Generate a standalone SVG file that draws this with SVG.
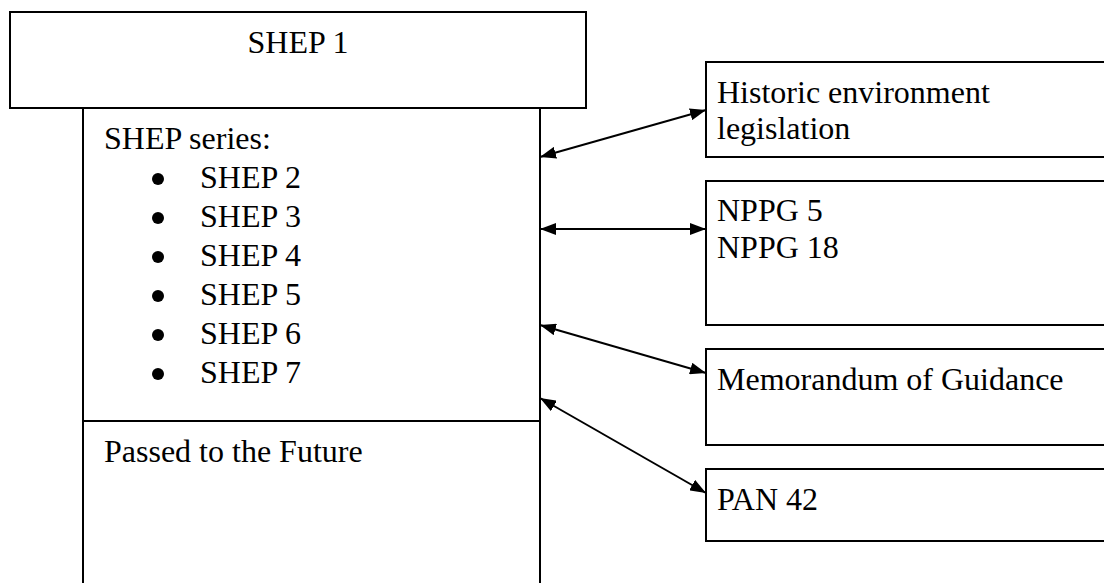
<svg xmlns="http://www.w3.org/2000/svg" width="1104" height="583" viewBox="0 0 1104 583">
<style>
.box{fill:#fff;stroke:#000;stroke-width:2}
.t{font-family:"Liberation Serif","Times New Roman",serif;font-size:32px;fill:#000}
.c{stroke:#000;stroke-width:2;fill:none;marker-start:url(#ah);marker-end:url(#ah)}
</style>
<defs>
<marker id="ah" viewBox="0 0 10 10" refX="10" refY="5" markerWidth="16" markerHeight="12" markerUnits="userSpaceOnUse" orient="auto-start-reverse" preserveAspectRatio="none">
<path d="M0,0 L10,5 L0,10 z" fill="#000"/>
</marker>
<circle id="bul" r="6" fill="#000"/>
</defs>
<rect width="1104" height="583" fill="#fff"/>
<g id="shep1">
<rect class="box" x="10" y="12" width="576" height="96"/>
<text class="t" x="298" y="53" text-anchor="middle">SHEP 1</text>
</g>
<g id="shep-series">
<rect class="box" x="83" y="108" width="457" height="313"/>
<text class="t" x="104" y="149">SHEP series:</text>
<use href="#bul" x="158" y="179"/><text class="t" x="200" y="188">SHEP 2</text>
<use href="#bul" x="158" y="218"/><text class="t" x="200" y="227">SHEP 3</text>
<use href="#bul" x="158" y="257"/><text class="t" x="200" y="266">SHEP 4</text>
<use href="#bul" x="158" y="296"/><text class="t" x="200" y="305">SHEP 5</text>
<use href="#bul" x="158" y="335"/><text class="t" x="200" y="344">SHEP 6</text>
<use href="#bul" x="158" y="374"/><text class="t" x="200" y="383">SHEP 7</text>
</g>
<g id="passed">
<rect class="box" x="83" y="421" width="457" height="170"/>
<text class="t" x="104" y="462">Passed to the Future</text>
</g>
<g id="historic">
<rect class="box" x="706" y="62" width="410" height="95"/>
<text class="t" x="717" y="103">Historic environment</text>
<text class="t" x="717" y="139">legislation</text>
</g>
<g id="nppg">
<rect class="box" x="706" y="181" width="410" height="144"/>
<text class="t" x="717" y="221">NPPG 5</text>
<text class="t" x="717" y="258">NPPG 18</text>
</g>
<g id="memo">
<rect class="box" x="706" y="349" width="410" height="96"/>
<text class="t" x="717" y="390">Memorandum of Guidance</text>
</g>
<g id="pan">
<rect class="box" x="706" y="469" width="410" height="72"/>
<text class="t" x="717" y="510">PAN 42</text>
</g>
<g id="connectors">
<line class="c" x1="540" y1="157" x2="706" y2="110"/>
<line class="c" x1="540" y1="229" x2="706" y2="229"/>
<line class="c" x1="540" y1="325" x2="706" y2="373"/>
<line class="c" x1="540" y1="398" x2="706" y2="493"/>
</g>
</svg>
